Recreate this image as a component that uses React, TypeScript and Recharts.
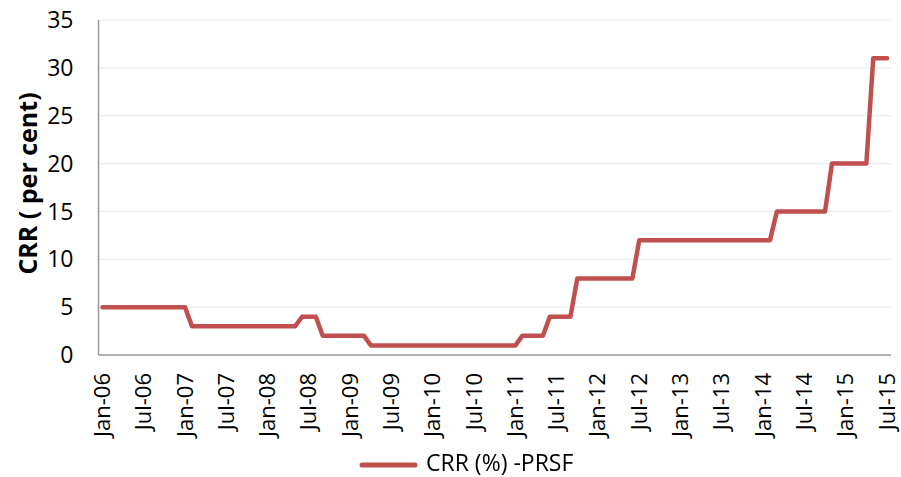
import { CartesianGrid, Legend, Line, LineChart, XAxis, YAxis } from 'recharts';

// monthly CRR (%) readings, one array per calendar year
const crr2006 = [5, 5, 5, 5, 5, 5, 5, 5, 5, 5, 5, 5];
const crr2007 = [5, 3, 3, 3, 3, 3, 3, 3, 3, 3, 3, 3];
const crr2008 = [3, 3, 3, 3, 3, 4, 4, 4, 2, 2, 2, 2];
const crr2009 = [2, 2, 2, 1, 1, 1, 1, 1, 1, 1, 1, 1];
const crr2010 = [1, 1, 1, 1, 1, 1, 1, 1, 1, 1, 1, 1];
const crr2011 = [1, 2, 2, 2, 2, 4, 4, 4, 4, 8, 8, 8];
const crr2012 = [8, 8, 8, 8, 8, 8, 12, 12, 12, 12, 12, 12];
const crr2013 = [12, 12, 12, 12, 12, 12, 12, 12, 12, 12, 12, 12];
const crr2014 = [12, 12, 15, 15, 15, 15, 15, 15, 15, 15, 20, 20];
const crr2015 = [20, 20, 20, 20, 31, 31, 31];

const monthNames = ['Jan', 'Feb', 'Mar', 'Apr', 'May', 'Jun', 'Jul', 'Aug', 'Sep', 'Oct', 'Nov', 'Dec'];
const years = ['06', '07', '08', '09', '10', '11', '12', '13', '14', '15'];
const yTicks = [0, 5, 10, 15, 20, 25, 30, 35];

const seriesName = 'CRR (%) -PRSF';
const axisTitle = 'CRR ( per cent)';

const yearly = [crr2006, crr2007, crr2008, crr2009, crr2010, crr2011, crr2012, crr2013, crr2014, crr2015];

const data = yearly.flatMap((vals, yi) =>
  vals.map((v, mi) => ({ month: `${monthNames[mi]}-${years[yi]}`, crr: v }))
);

const FONT = '"Open Sans", sans-serif';
const RED = '#C0504D';

function XTick(props: any) {
  const { x, y, payload } = props;
  return (
    <text
      x={0}
      y={0}
      transform={`translate(${x - 1.5},${y + 10}) rotate(-90)`}
      textAnchor="end"
      dominantBaseline="central"
      fontFamily={FONT}
      fontSize={22}
      fill="#000"
    >
      {payload.value}
    </text>
  );
}

function YTitle(props: any) {
  const { viewBox } = props;
  const cy = viewBox.y + viewBox.height / 2 - 4;
  return (
    <text
      x={0}
      y={0}
      transform={`translate(27,${cy}) rotate(-90)`}
      textAnchor="middle"
      dominantBaseline="central"
      fontFamily={FONT}
      fontWeight="bold"
      fontSize={25}
      fill="#000"
    >
      {axisTitle}
    </text>
  );
}

function LegendBox() {
  return (
    <div style={{ position: 'relative', height: 32, width: 901 }}>
      <svg width={901} height={32} style={{ position: 'absolute', left: 0, top: 0, overflow: 'visible' }}>
        <line x1={362} y1={20} x2={415} y2={20} stroke={RED} strokeWidth={5} strokeLinecap="round" />
        <text x={426} y={26} fontFamily={FONT} fontSize={23} fill="#000">
          {seriesName}
        </text>
      </svg>
    </div>
  );
}

export default function App() {
  return (
    <div style={{ position: 'fixed', left: 0, top: 0, background: '#fff' }}>
      <LineChart width={901} height={477} data={data} margin={{ top: 20, right: 10, bottom: 0, left: 0 }}>
        <CartesianGrid vertical={false} stroke="#E9EDF3" strokeWidth={1.2} />
        <XAxis
          dataKey="month"
          interval={5}
          tick={<XTick />}
          tickLine={false}
          axisLine={{ stroke: '#9A9A9A', strokeWidth: 1.5 }}
          height={90}
          padding={{ left: 4, right: 4 }}
        />
        <YAxis
          width={98.5}
          domain={[0, 35]}
          ticks={yTicks}
          tickLine={false}
          tickSize={0}
          tickMargin={25}
          axisLine={{ stroke: '#9A9A9A', strokeWidth: 1.5 }}
          tick={{ fontFamily: FONT, fontSize: 23, fill: '#000' }}
          label={<YTitle />}
        />
        <Legend verticalAlign="bottom" height={32} content={<LegendBox />} wrapperStyle={{ left: 0, width: 901 }} />
        <Line
          type="linear"
          dataKey="crr"
          name={seriesName}
          stroke={RED}
          strokeWidth={4.5}
          strokeLinejoin="round"
          strokeLinecap="round"
          dot={false}
          activeDot={false}
          isAnimationActive={false}
        />
      </LineChart>
    </div>
  );
}
